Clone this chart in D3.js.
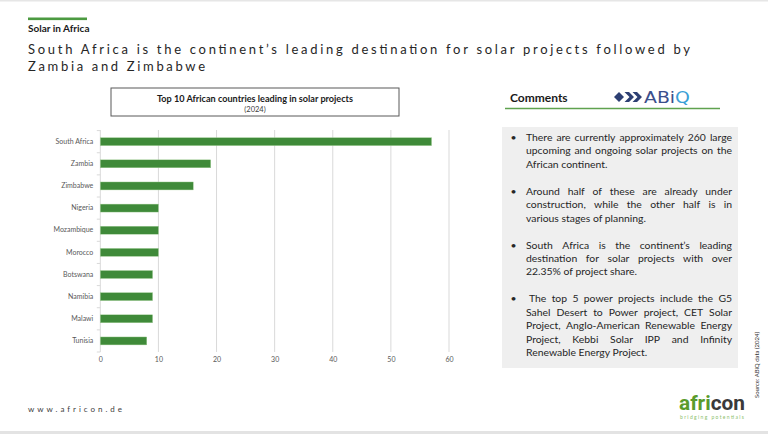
<!DOCTYPE html>
<html>
<head>
<meta charset="utf-8">
<script src="https://cdn.jsdelivr.net/npm/d3@7"></script>
<style>
  body { margin: 0; background: #fff; }
  svg { display: block; }
</style>
</head>
<body>
<div id="chart"></div>
<script>
// chart data
const countries = ["South Africa", "Zambia", "Zimbabwe", "Nigeria", "Mozambique", "Morocco", "Botswana", "Namibia", "Malawi", "Tunisia"]
const projects = [57, 19, 16, 10, 10, 10, 9, 9, 9, 8]
const xTicks = [0, 10, 20, 30, 40, 50, 60]

// page texts
const section = "Solar in Africa"
const headline = ["South Africa is the continent\u2019s leading destination for solar projects followed by", "Zambia and Zimbabwe"]
const chartTitle = "Top 10 African countries leading in solar projects"
const chartYear = "(2024)"
const source = "Source: ABiQ data (2024)"
const website = "www.africon.de"

// comment paragraphs, one string per printed line
const comments = [
  ["There are currently approximately 260 large", "upcoming and ongoing solar projects on the", "African continent."],
  ["Around half of these are already under", "construction, while the other half is in", "various stages of planning."],
  ["South Africa is the continent\u2019s leading", "destination for solar projects with over", "22.35% of project share."],
  [" The top 5 power projects include the G5", "Sahel Desert to Power project, CET Solar", "Project, Anglo-American Renewable Energy", "Project, Kebbi Solar IPP and Infinity", "Renewable Energy Project."]
]

const W = 768, H = 434
const font = "Lato, 'Open Sans', sans-serif"

const svg = d3.select("#chart").append("svg")
  .attr("width", W)
  .attr("height", H)
  .style("font-family", font)

svg.append("rect").attr("width", W).attr("height", H).attr("fill", "#fff")
svg.append("rect").attr("width", W).attr("height", 1.5).attr("fill", "#e6e6e6")
svg.append("rect").attr("y", 431).attr("width", W).attr("height", 3).attr("fill", "#e3e3e3")

/* ---------- header ---------- */
svg.append("rect").attr("x", 28).attr("y", 17.5).attr("width", 59).attr("height", 2.6).attr("fill", "#4c9a41")
svg.append("text").attr("x", 28).attr("y", 32)
  .attr("font-size", 10).attr("font-weight", "bold").attr("fill", "#1a1a1a")
  .text(section)

svg.selectAll("text.headline")
  .data(headline)
  .enter().append("text")
  .attr("class", "headline")
  .attr("x", 28)
  .attr("y", (d, i) => 54 + i * 17)
  .attr("font-size", 13)
  .attr("fill", "#262626")
  .attr("textLength", (d, i) => i == 0 ? 662 : 177)
  .attr("lengthAdjust", "spacing")
  .text(d => d)

/* ---------- bar chart ---------- */
const x = d3.scaleLinear().domain([0, 60]).range([100.3, 449])
const y = d3.scaleBand().domain(countries).range([130.6, 352]).paddingInner(0.64).paddingOuter(0.32)

// title box
svg.append("rect").attr("x", 111).attr("y", 88).attr("width", 288).attr("height", 28)
  .attr("fill", "#fff").attr("stroke", "#595959").attr("stroke-width", 1)
svg.append("text").attr("x", 255).attr("y", 101.5).attr("text-anchor", "middle")
  .attr("font-size", 9).attr("font-weight", "bold").attr("fill", "#1a1a1a")
  .attr("textLength", 196).attr("lengthAdjust", "spacingAndGlyphs")
  .text(chartTitle)
svg.append("text").attr("x", 255).attr("y", 112).attr("text-anchor", "middle")
  .attr("font-size", 7.5).attr("fill", "#404040")
  .text(chartYear)

// grid
svg.append("g").selectAll("line")
  .data(xTicks)
  .enter().append("line")
  .attr("x1", d => x(d)).attr("x2", d => x(d))
  .attr("y1", 130).attr("y2", 352)
  .attr("stroke", "#d9d9d9").attr("stroke-width", 1)

// small ticks between categories
const bounds = d3.range(countries.length + 1).map(i => y.range()[0] + i * y.step())
svg.append("g").selectAll("line")
  .data(bounds)
  .enter().append("line")
  .attr("x1", x(0) - 3.5).attr("x2", x(0))
  .attr("y1", d => d).attr("y2", d => d)
  .attr("stroke", "#d9d9d9")

// bars
svg.append("g").selectAll("rect")
  .data(countries)
  .enter().append("rect")
  .attr("x", x(0))
  .attr("y", d => y(d))
  .attr("width", (d, i) => x(projects[i]) - x(0))
  .attr("height", y.bandwidth())
  .attr("fill", "#3f8a39")
  .attr("stroke", "#a9d39c")
  .attr("stroke-width", 0.4)

// axes
const yAxis = svg.append("g")
  .attr("transform", "translate(" + x(0) + ",0)")
  .call(d3.axisLeft(y).tickSize(0).tickPadding(7))
yAxis.select(".domain").remove()
yAxis.selectAll("text").attr("font-size", 7).attr("fill", "#595959").attr("font-family", font)

const xAxis = svg.append("g")
  .attr("transform", "translate(0,357)")
  .call(d3.axisBottom(x).tickValues(xTicks).tickSize(0).tickPadding(0))
xAxis.select(".domain").remove()
xAxis.selectAll("text").attr("font-size", 7).attr("fill", "#595959").attr("font-family", font)

/* ---------- comments panel ---------- */
svg.append("text").attr("x", 510).attr("y", 102)
  .attr("font-size", 12).attr("font-weight", "bold").attr("fill", "#1a1a1a")
  .text("Comments")
svg.append("line").attr("x1", 505).attr("x2", 720).attr("y1", 108.5).attr("y2", 108.5)
  .attr("stroke", "#5fa24f").attr("stroke-width", 1.6)

// ABiQ logo
const logo = svg.append("g").attr("fill", "#2d3f73")
logo.append("polygon").attr("points", "614,97 619,92 624,97 619,102")
logo.append("polygon").attr("points", "624.5,92 629,92 634,97 629,102 624.5,102 629.5,97")
logo.append("polygon").attr("points", "632.5,92 637,92 642,97 637,102 632.5,102 637.5,97")
const logoText = svg.append("text").attr("x", 644).attr("y", 103)
  .attr("font-size", 15).attr("font-family", "'DejaVu Sans', sans-serif")
  .attr("textLength", 46).attr("lengthAdjust", "spacingAndGlyphs")
logoText.append("tspan").attr("fill", "#3b4f8c").text("AB")
logoText.append("tspan").attr("fill", "#3b4f8c").text("i")
logoText.append("tspan").attr("fill", "#3aa0d6").text("Q")

svg.append("rect").attr("x", 502).attr("y", 127).attr("width", 236).attr("height", 241).attr("fill", "#efefef")

const textLeft = 526, textRight = 732, lineH = 13.4, paraStep = 53.8
const body = svg.append("g").attr("font-size", 10.4).attr("fill", "#262626")

// measure a word in the body font
const probe = body.append("text").attr("visibility", "hidden")
function measure(s) { probe.text(s); return probe.node().getComputedTextLength() }

comments.forEach(function (para, p) {
  const top = 141 + p * paraStep
  body.append("text").attr("x", 510.5).attr("y", top).text("\u2022")
  para.forEach(function (line, j) {
    const base = top + j * lineH
    const lead = line.startsWith(" ") ? 3 : 0
    const words = line.trim().split(" ")
    const t = body.append("text").attr("y", base)
    if (j == para.length - 1) {
      t.attr("x", textLeft + lead).text(line.trim())
      return
    }
    // justify the line between the margins
    const widths = words.map(measure)
    const gap = (textRight - textLeft - lead - d3.sum(widths)) / (words.length - 1)
    let pos = textLeft + lead
    words.forEach(function (w, k) {
      t.append("tspan").attr("x", pos).text(w)
      pos += widths[k] + gap
    })
  })
})
probe.remove()

/* ---------- footer ---------- */
svg.append("text").attr("x", 28).attr("y", 412)
  .attr("font-size", 8).attr("fill", "#404040")
  .attr("textLength", 94).attr("lengthAdjust", "spacing")
  .text(website)

svg.append("text")
  .attr("transform", "translate(759,365) rotate(-90)")
  .attr("text-anchor", "middle")
  .attr("font-size", 6).attr("fill", "#333")
  .attr("textLength", 66).attr("lengthAdjust", "spacingAndGlyphs")
  .text(source)

const brand = svg.append("text").attr("x", 679).attr("y", 410)
  .attr("font-size", 20).attr("font-weight", "bold")
  .attr("font-family", "'Liberation Sans Narrow', 'Roboto', sans-serif")
  .attr("textLength", 66).attr("lengthAdjust", "spacingAndGlyphs")
brand.append("tspan").attr("fill", "#5a9b2c").text("afri")
brand.append("tspan").attr("fill", "#3a3a3a").text("con")
svg.append("text").attr("x", 680).attr("y", 418.5)
  .attr("font-size", 5).attr("fill", "#8cc06c")
  .attr("textLength", 64).attr("lengthAdjust", "spacing")
  .text("bridging potentials")
</script>
</body>
</html>
